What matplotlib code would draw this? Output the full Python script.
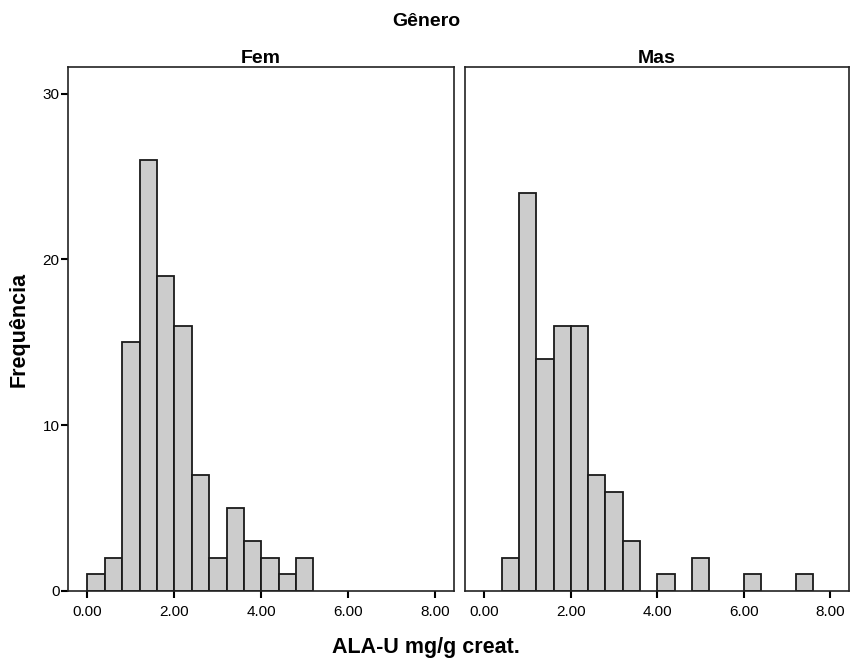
import matplotlib.pyplot as plt

plt.rcParams['font.family'] = ['Liberation Sans', 'DejaVu Sans']

# bin edges (width 0.4) and counts per panel
bin_width = 0.4
fem_bins = [0.0, 0.4, 0.8, 1.2, 1.6, 2.0, 2.4, 2.8, 3.2, 3.6, 4.0, 4.4, 4.8]
fem_counts = [1, 2, 15, 26, 19, 16, 7, 2, 5, 3, 2, 1, 2]

mas_bins = [0.4, 0.8, 1.2, 1.6, 2.0, 2.4, 2.8, 3.2, 4.0, 4.8, 6.0, 7.2]
mas_counts = [2, 24, 14, 16, 16, 7, 6, 3, 1, 2, 1, 1]

panels = ['Fem', 'Mas']
xticks = [0, 2, 4, 6, 8]
xtick_labels = ['0.00', '2.00', '4.00', '6.00', '8.00']
yticks = [0, 10, 20, 30]

fig = plt.figure(figsize=(8.52, 6.59), dpi=100)
ax1 = fig.add_axes([0.0798, 0.1032, 0.453, 0.795])
ax2 = fig.add_axes([0.5458, 0.1032, 0.4507, 0.795])

for ax, name, bins, counts in [(ax1, panels[0], fem_bins, fem_counts),
                               (ax2, panels[1], mas_bins, mas_counts)]:
    ax.bar(bins, counts, width=bin_width, align='edge', color='#cccccc',
           edgecolor='#1a1a1a', linewidth=1.3)
    ax.set_xlim(-0.445, 8.43)
    ax.set_ylim(0, 31.6)
    ax.set_xticks(xticks)
    ax.set_xticklabels(xtick_labels)
    ax.tick_params(axis='x', direction='out', length=5, width=1.5, labelsize=11, pad=5)
    ax.set_title(name, fontsize=14, fontweight='bold', pad=2)
    for s in ax.spines.values():
        s.set_linewidth(1.2)
        s.set_color('#222222')

ax1.set_yticks(yticks)
ax1.tick_params(axis='y', direction='out', length=5, width=1.5, labelsize=11, pad=1)
ax2.set_yticks([])

fig.text(0.5, 0.968, 'Gênero', ha='center', va='center', fontsize=14, fontweight='bold')
fig.text(0.022, 0.5, 'Frequência', ha='center', va='center', rotation=90,
         fontsize=15.5, fontweight='bold')
fig.text(0.5, 0.018, 'ALA-U mg/g creat.', ha='center', va='center',
         fontsize=15.5, fontweight='bold')

fig.savefig('out.png', dpi=100)
